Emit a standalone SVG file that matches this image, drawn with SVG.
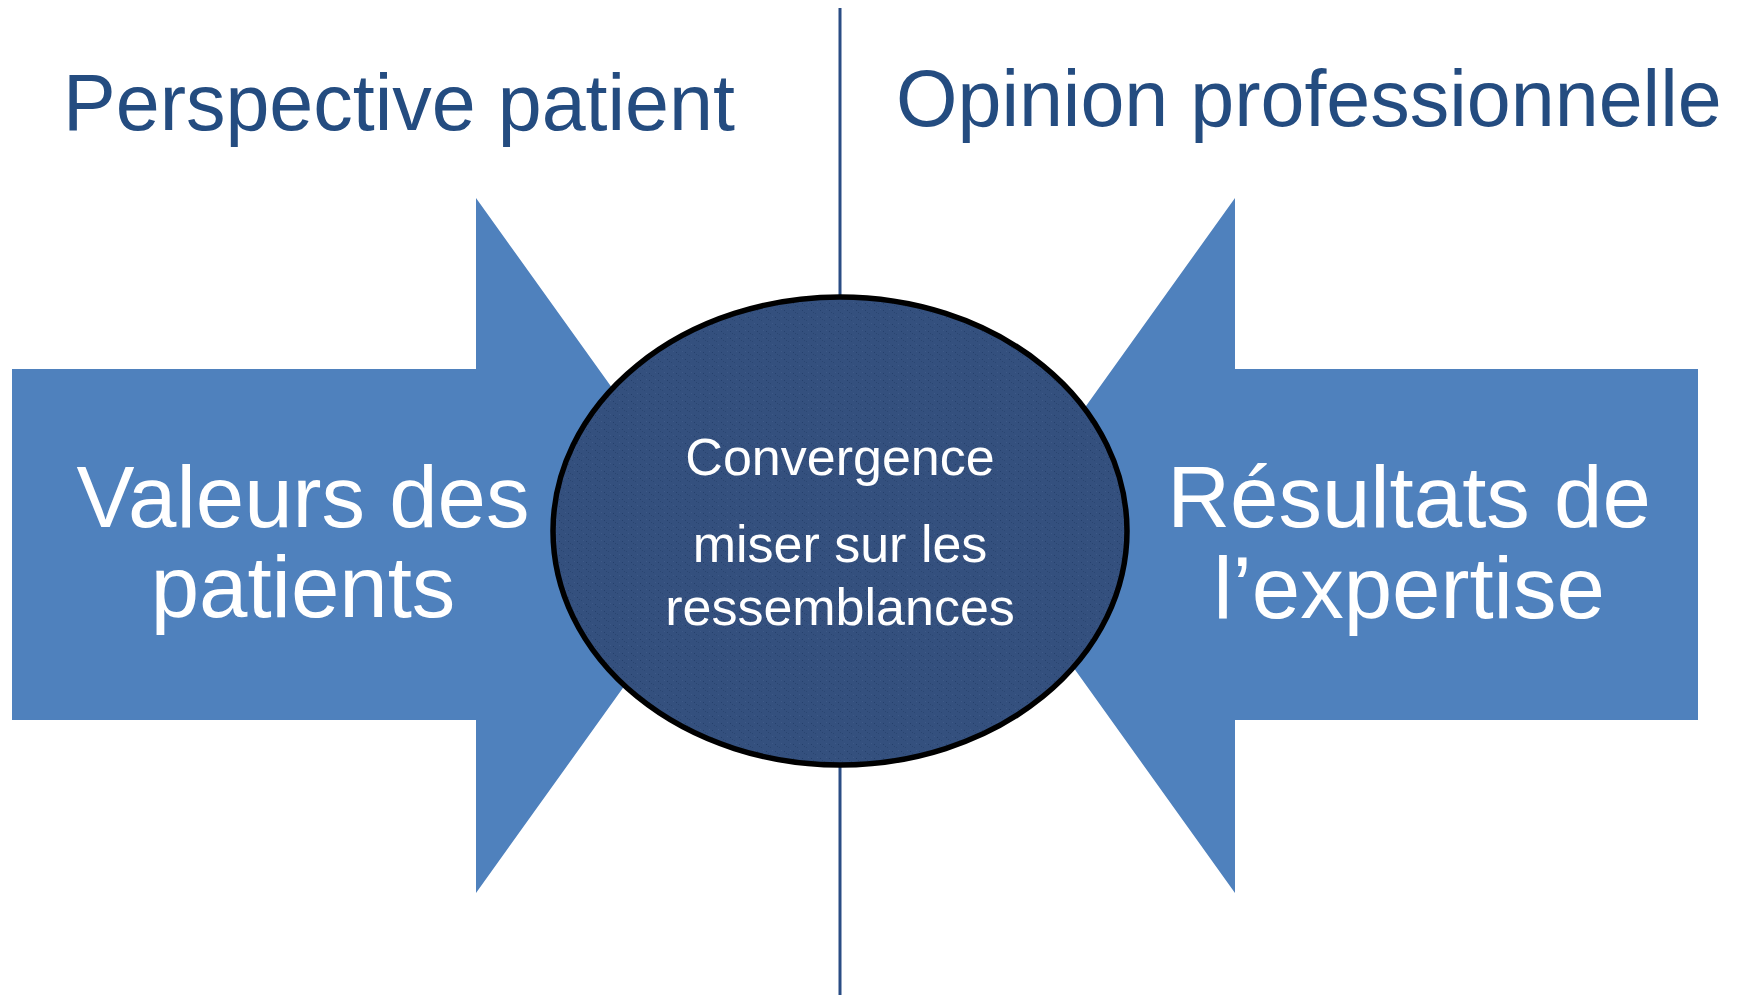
<svg xmlns="http://www.w3.org/2000/svg" width="1746" height="995" viewBox="0 0 1746 995">
  <style>
    .title { font-family: "Liberation Sans", Arial, sans-serif; font-size: 79px; fill: #244C80; }
    .arrowtxt { font-family: "Liberation Sans", Arial, sans-serif; font-size: 87px; fill: #FFFFFF; text-anchor: middle; }
    .ctxt { font-family: "Liberation Sans", Arial, sans-serif; font-size: 52px; fill: #FFFFFF; text-anchor: middle; }
    .arrow { fill: #4F81BD; }
  </style>
  <defs>
    <pattern id="tex" width="9" height="7" patternUnits="userSpaceOnUse">
      <rect width="9" height="7" fill="#34507E"/>
      <rect x="1" y="2" width="1" height="1" fill="#243F6B"/>
      <rect x="5" y="5" width="1" height="1" fill="#2A4672"/>
      <rect x="7" y="1" width="1" height="1" fill="#3E5A88"/>
      <rect x="3" y="4" width="1" height="1" fill="#2A4570"/>
    </pattern>
  </defs>
  <rect width="1746" height="995" fill="#FFFFFF"/>
  <g id="connectors">
    <line x1="840" y1="8" x2="840" y2="995" stroke="#2A4D84" stroke-width="3"/>
  </g>
  <g id="title-left">
    <text class="title" x="63" y="130">Perspective patient</text>
  </g>
  <g id="title-right">
    <text class="title" x="896" y="126">Opinion professionnelle</text>
  </g>
  <g id="arrow-left">
    <polygon class="arrow" points="12,369 476,369 476,198 725,545.5 476,893 476,720 12,720"/>
    <text class="arrowtxt" x="303" y="527">Valeurs des</text>
    <text class="arrowtxt" x="303" y="617">patients</text>
  </g>
  <g id="arrow-right">
    <polygon class="arrow" points="1698,369 1235,369 1235,198 986,545.5 1235,893 1235,720 1698,720"/>
    <text class="arrowtxt" x="1409" y="527">Résultats de</text>
    <text class="arrowtxt" x="1409" y="618">l’expertise</text>
  </g>
  <g id="center">
    <ellipse cx="840" cy="531" rx="287" ry="234" fill="url(#tex)" stroke="#000000" stroke-width="5.5"/>
    <text class="ctxt" x="840" y="475">Convergence</text>
    <text class="ctxt" x="840" y="562">miser sur les</text>
    <text class="ctxt" x="840" y="625">ressemblances</text>
  </g>
</svg>
